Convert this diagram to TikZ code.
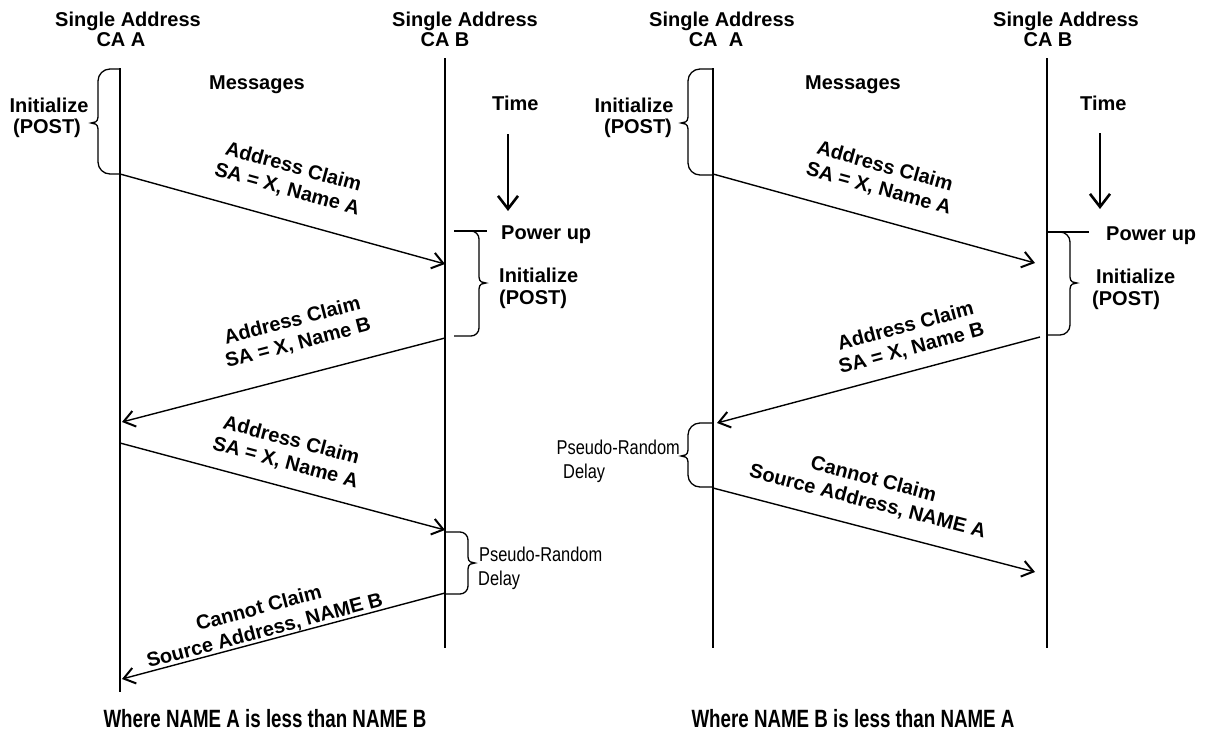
\documentclass[tikz,border=0pt]{standalone}
\usepackage{fontspec}
\usepackage{graphicx}
\setmainfont{Liberation Sans}
\usetikzlibrary{arrows.meta}
\newcommand{\nrw}[1]{\scalebox{0.82}[1]{#1}}
\newcommand{\nrwb}[1]{\scalebox{0.75}[1]{#1}}
\newcommand{\cbr}[7]{%
  % #1 base x, #2 dir, #3 ytop, #4 ybot, #5 ytip, #6 stub, #7 vertical offset, tip = #7+7
  \pgfmathsetmacro\bxs{#1+#2*#6}%
  \pgfmathsetmacro\bxv{#1+#2*#7}%
  \pgfmathsetmacro\bxc{#1+#2*(#6+0.55*(#7-#6))}%
  \pgfmathsetmacro\bxt{#1+#2*(#7+7)}%
  \pgfmathsetmacro\bxq{#1+#2*(#7+4)}%
  \pgfmathsetmacro\br{#7-#6}%
  \draw[brc] (#1,#3) -- (\bxs,#3) .. controls (\bxc,#3) and (\bxv,#3+0.45*\br) .. (\bxv,#3+\br)
    -- (\bxv,#5-6) .. controls (\bxv,#5-1) and (\bxq,#5) .. (\bxt,#5)
    .. controls (\bxq,#5) and (\bxv,#5+1) .. (\bxv,#5+6)
    -- (\bxv,#4-\br) .. controls (\bxv,#4-0.45*\br) and (\bxc,#4) .. (\bxs,#4) -- (#1,#4);%
}
\tikzset{
  txt/.style={font=\fontsize{20}{23}\selectfont\bfseries, inner sep=0pt, align=center},
  ntxt/.style={font=\fontsize{20}{24}\selectfont, inner sep=0pt, align=left},
  btxt/.style={font=\fontsize{25}{28}\selectfont\bfseries, inner sep=0pt},
  life/.style={line width=1.8pt},
  msg/.style={line width=1.4pt, -{Straight Barb[length=11pt,width=16pt,line width=2pt]}},
  tarr/.style={line width=1.6pt, -{Straight Barb[length=13pt,width=20pt,line width=2.6pt]}},
  brc/.style={line width=1.3pt},
  mlab/.style={txt, sloped, above},
}
\begin{document}
\begin{tikzpicture}[x=1pt,y=-1pt]
\useasboundingbox (0,0) rectangle (1205,744);
% ===== left diagram =====
\node[txt, anchor=base] (LhA1) at (128,27) {Single Address};
\node[txt, anchor=base] (LhA2) at (121,46) {CA A};
\node[txt, anchor=base] (LhB1) at (465,27) {Single Address};
\node[txt, anchor=base] (LhB2) at (445,46) {CA B};
\node[txt, anchor=base west] (Lmsg) at (209,89) {Messages};
\node[txt, anchor=base west] (Ltime) at (492,110) {Time};
\coordinate (LAt) at (120,68);  \coordinate (LAb) at (120,692);
\coordinate (LBt) at (445,58);  \coordinate (LBb) at (445,648);
\draw[life] (LAt) -- (LAb);
\draw[life] (LBt) -- (LBb);
\coordinate (Lt1) at (508,134); \coordinate (Lt2) at (508,211);
\draw[tarr] (Lt1) -- (Lt2);
% braces
\cbr{120}{-1}{69}{174}{123}{10}{22}
\node[txt, anchor=base] (LiniA) at (49,112) {Initialize};
\node[txt, anchor=base] (LiniA2) at (47,133) {(POST)};
\coordinate (Lpu1) at (454,231); \coordinate (Lpu2) at (487,231);
\draw[brc] (Lpu1) -- (Lpu2);
\cbr{454}{1}{231}{336}{283}{17}{25}
\node[txt, anchor=base west] (Lpu) at (501,239) {Power up};
\node[txt, anchor=base west] (LiniB) at (499,282) {Initialize};
\node[txt, anchor=base west] (LiniB2) at (499,304) {(POST)};
\cbr{445}{1}{532}{594}{563}{15}{23}
\node[ntxt, anchor=base west] (Lpr) at (479,561) {\nrw{Pseudo-Random}};
\node[ntxt, anchor=base west] (Lpr2) at (478,585) {\nrw{Delay}};
% messages
\coordinate (L1s) at (120,174); \coordinate (L1e) at (445,264);
\coordinate (L2s) at (445,338); \coordinate (L2e) at (122,422);
\coordinate (L3s) at (120,443); \coordinate (L3e) at (445,530);
\coordinate (L4s) at (445,593); \coordinate (L4e) at (122,679);
\draw[msg] (L1s) -- node[mlab, pos=0.49, above=20pt] {Address Claim\\SA = X, Name A} (L1e);
\draw[msg] (L2s) -- node[mlab, pos=0.43, above=22pt] {Address Claim\\SA = X, Name B} (L2e);
\draw[msg] (L3s) -- node[mlab, pos=0.49, above=14pt] {Address Claim\\SA = X, Name A} (L3e);
\draw[msg] (L4s) -- node[mlab, pos=0.55, above=0pt] {Cannot Claim\\Source Address, NAME B} (L4e);
\node[btxt, anchor=base] (Lfoot) at (265,727) {\nrwb{Where NAME A is less than NAME B}};
% ===== right diagram =====
\node[txt, anchor=base] (RhA1) at (722,27) {Single Address};
\node[txt, anchor=base] (RhA2) at (716,46) {CA\ \ A};
\node[txt, anchor=base] (RhB1) at (1066,27) {Single Address};
\node[txt, anchor=base] (RhB2) at (1048,46) {CA B};
\node[txt, anchor=base west] (Rmsg) at (805,89) {Messages};
\node[txt, anchor=base west] (Rtime) at (1080,110) {Time};
\coordinate (RAt) at (713,68);  \coordinate (RAb) at (713,648);
\coordinate (RBt) at (1047,58); \coordinate (RBb) at (1047,648);
\draw[life] (RAt) -- (RAb);
\draw[life] (RBt) -- (RBb);
\coordinate (Rt1) at (1100,133); \coordinate (Rt2) at (1100,209);
\draw[tarr] (Rt1) -- (Rt2);
\cbr{713}{-1}{69}{175}{123}{13}{25}
\node[txt, anchor=base] (RiniA) at (634,112) {Initialize};
\node[txt, anchor=base] (RiniA2) at (638,133) {(POST)};
\coordinate (Rpu1) at (1047,232); \coordinate (Rpu2) at (1089,232);
\draw[brc] (Rpu1) -- (Rpu2);
\cbr{1047}{1}{232}{335}{283}{13}{23}
\node[txt, anchor=base west] (Rpu) at (1106,240) {Power up};
\node[txt, anchor=base west] (RiniB) at (1096,283) {Initialize};
\node[txt, anchor=base west] (RiniB2) at (1092,305) {(POST)};
\cbr{713}{-1}{423}{487}{456}{13}{25}
\node[ntxt, anchor=base east] (Rpr) at (680,454) {\nrw{Pseudo-Random}};
\node[ntxt, anchor=base west] (Rpr2) at (563,478) {\nrw{Delay}};
\coordinate (R1s) at (713,174); \coordinate (R1e) at (1035,263);
\coordinate (R2s) at (1040,337); \coordinate (R2e) at (717,423);
\coordinate (R3s) at (713,488); \coordinate (R3e) at (1035,572);
\draw[msg] (R1s) -- node[mlab, pos=0.49, above=20pt] {Address Claim\\SA = X, Name A} (R1e);
\draw[msg] (R2s) -- node[mlab, pos=0.38, above=12pt] {Address Claim\\SA = X, Name B} (R2e);
\draw[msg] (R3s) -- node[mlab, pos=0.46, above=16pt] {Cannot Claim\\Source Address, NAME A} (R3e);
\node[btxt, anchor=base] (Rfoot) at (853,727) {\nrwb{Where NAME B is less than NAME A}};
\end{tikzpicture}
\end{document}
